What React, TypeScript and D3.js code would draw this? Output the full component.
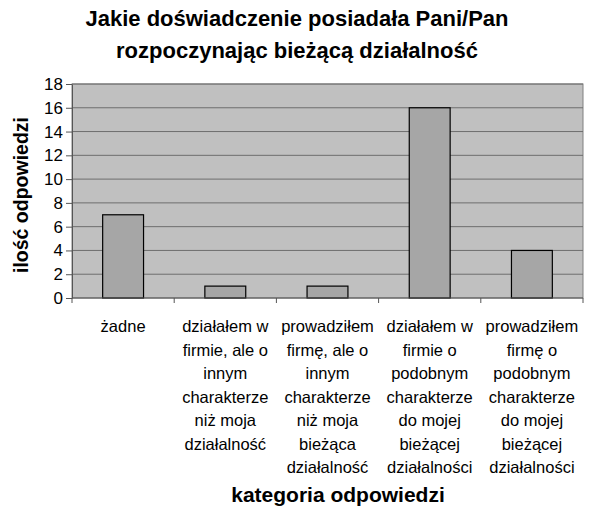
import React, { useEffect, useRef } from "react";
import * as d3 from "d3";

const categories: string[][] = [
  ["żadne"],
  ["działałem w", "firmie, ale o", "innym", "charakterze", "niż moja", "działalność"],
  ["prowadziłem", "firmę, ale o", "innym", "charakterze", "niż moja", "bieżąca", "działalność"],
  ["działałem w", "firmie o", "podobnym", "charakterze", "do mojej", "bieżącej", "działalności"],
  ["prowadziłem", "firmę o", "podobnym", "charakterze", "do mojej", "bieżącej", "działalności"],
];
const values = [7, 1, 1, 16, 4];
const yTicks = [0, 2, 4, 6, 8, 10, 12, 14, 16, 18];
const titleLines = ["Jakie doświadczenie posiadała Pani/Pan", "rozpoczynając bieżącą działalność"];

const W = 590;
const H = 508;

const App: React.FC = () => {
  const svgRef = useRef<SVGSVGElement>(null);

  useEffect(() => {
    if (!svgRef.current) return;
    const root = d3.select(svgRef.current);
    root.selectAll("*").remove();

    const font = "'Liberation Sans', Arial, sans-serif";
    const left = 72, right = 583, top = 84, bottom = 298;

    const x = d3.scaleBand<number>()
      .domain(values.map((_, i) => i))
      .range([left, right])
      .paddingInner(0.6)
      .paddingOuter(0.3);

    const y = d3.scaleLinear().domain([0, 18]).range([bottom, top]);

    // plot background
    root.append("rect")
      .attr("x", left).attr("y", top)
      .attr("width", right - left).attr("height", bottom - top)
      .attr("fill", "#c0c0c0")
      .attr("stroke", "#808080")
      .attr("stroke-width", 1);

    // gridlines
    root.append("g")
      .selectAll("line")
      .data(yTicks.filter(t => t > 0))
      .enter().append("line")
      .attr("x1", left).attr("x2", right)
      .attr("y1", d => y(d)).attr("y2", d => y(d))
      .attr("stroke", "#6e6e6e")
      .attr("stroke-width", 1);

    // bars
    root.append("g")
      .selectAll("rect")
      .data(values)
      .enter().append("rect")
      .attr("x", (_, i) => x(i)!)
      .attr("y", d => y(d))
      .attr("width", x.bandwidth())
      .attr("height", d => bottom - y(d))
      .attr("fill", "#a6a6a6")
      .attr("stroke", "#000")
      .attr("stroke-width", 1.2);

    // y axis
    const yAxis = root.append("g")
      .attr("transform", `translate(${left},0)`)
      .call(d3.axisLeft(y).tickValues(yTicks).tickSize(6).tickPadding(3).tickSizeOuter(0));
    yAxis.select(".domain").attr("stroke", "#555");
    yAxis.selectAll(".tick line").attr("stroke", "#555");
    yAxis.selectAll("text")
      .attr("font-family", font)
      .attr("font-size", 17)
      .attr("fill", "#000");

    // x axis baseline + ticks at category boundaries
    const step = x.step();
    const bounds = d3.range(values.length + 1).map(i => left + i * step);
    const xAxis = root.append("g");
    xAxis.append("line")
      .attr("x1", left).attr("x2", right)
      .attr("y1", bottom).attr("y2", bottom)
      .attr("stroke", "#555");
    xAxis.selectAll("line.tk")
      .data(bounds)
      .enter().append("line")
      .attr("class", "tk")
      .attr("x1", d => d).attr("x2", d => d)
      .attr("y1", bottom).attr("y2", bottom + 5)
      .attr("stroke", "#555");

    // category labels
    const lab = root.append("g")
      .attr("font-family", font)
      .attr("font-size", 16.5)
      .attr("text-anchor", "middle")
      .attr("fill", "#000");
    categories.forEach((lines, i) => {
      const cx = x(i)! + x.bandwidth() / 2;
      const t = lab.append("text").attr("x", cx).attr("y", 332);
      lines.forEach((ln, j) => {
        t.append("tspan").attr("x", cx).attr("y", 332 + j * 23.5).text(ln);
      });
    });

    // title
    const title = root.append("text")
      .attr("font-family", font)
      .attr("font-size", 22)
      .attr("font-weight", "bold")
      .attr("text-anchor", "middle");
    titleLines.forEach((ln, j) => {
      title.append("tspan").attr("x", 297).attr("y", 26 + j * 32).text(ln);
    });

    // y axis title
    root.append("text")
      .attr("transform", `translate(28,${(top + bottom) / 2 + 4}) rotate(-90)`)
      .attr("font-family", font)
      .attr("font-size", 19.5)
      .attr("font-weight", "bold")
      .attr("text-anchor", "middle")
      .text("ilość odpowiedzi");

    // x axis title
    root.append("text")
      .attr("x", 338)
      .attr("y", 502)
      .attr("font-family", font)
      .attr("font-size", 21)
      .attr("font-weight", "bold")
      .attr("text-anchor", "middle")
      .text("kategoria odpowiedzi");
  }, []);

  return (
    <svg
      ref={svgRef}
      width={W}
      height={H}
      style={{ position: "absolute", left: 0, top: 0, background: "#fff" }}
    />
  );
};

export default App;
